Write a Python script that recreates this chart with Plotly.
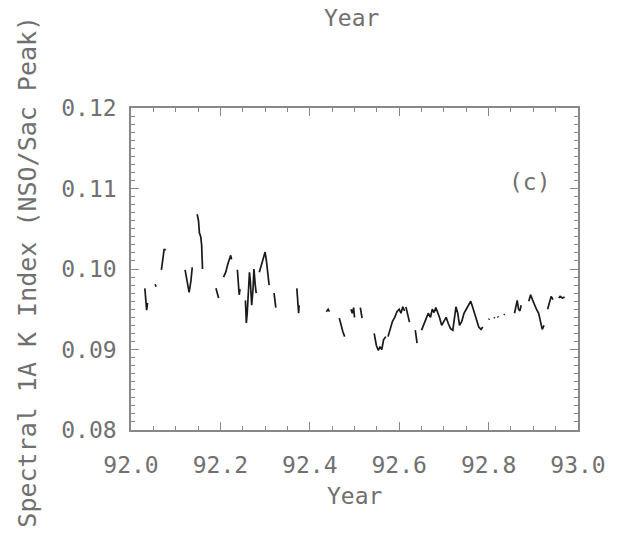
import plotly.graph_objects as go

# Data segments (year, Spectral 1A K index); gaps separate observing runs
segments_year = [
    [92.031, 92.033, 92.035, 92.037],
    [92.054, 92.056],
    [92.068, 92.071, 92.074, 92.078],
    [92.121, 92.126, 92.130, 92.134, 92.137],
    [92.148, 92.151, 92.153, 92.156, 92.158, 92.160],
    [92.190, 92.193, 92.196],
    [92.207, 92.212, 92.216, 92.220, 92.223, 92.225],
    [92.238, 92.240, 92.242, 92.244],
    [92.256, 92.258, 92.260, 92.263, 92.265, 92.267, 92.270, 92.273, 92.275, 92.278, 92.280],
    [92.287, 92.291, 92.295, 92.300, 92.303, 92.306, 92.309],
    [92.320, 92.322, 92.324],
    [92.371, 92.373, 92.375, 92.376],
    [92.437, 92.441, 92.444],
    [92.466, 92.470, 92.474, 92.478],
    [92.492, 92.495, 92.498, 92.500],
    [92.513, 92.515, 92.517],
    [92.544, 92.549, 92.553, 92.557, 92.561, 92.565, 92.570],
    [92.575, 92.580, 92.585, 92.590, 92.595, 92.600, 92.604, 92.608, 92.612],
    [92.615, 92.619, 92.623],
    [92.636, 92.638, 92.640],
    [92.650, 92.655, 92.660, 92.665, 92.670, 92.674, 92.678, 92.682, 92.686, 92.690,
     92.695, 92.700, 92.705, 92.710, 92.715, 92.720, 92.724, 92.727, 92.731, 92.735,
     92.740, 92.745, 92.750, 92.755, 92.760, 92.764, 92.768, 92.773, 92.778, 92.783, 92.787],
    [92.800, 92.802], [92.812, 92.814], [92.820, 92.822], [92.834, 92.836],
    [92.858, 92.861, 92.864, 92.867, 92.870, 92.873],
    [92.890, 92.894, 92.898, 92.903, 92.907, 92.912, 92.916, 92.920, 92.924],
    [92.932, 92.936, 92.940, 92.944],
    [92.957, 92.960, 92.965, 92.970],
]
segments_index = [
    [0.0976, 0.0965, 0.0949, 0.0958],
    [0.0981, 0.0978],
    [0.0999, 0.1012, 0.1024, 0.1024],
    [0.0999, 0.0980, 0.0971, 0.0985, 0.1002],
    [0.1068, 0.1060, 0.1045, 0.1040, 0.1030, 0.1000],
    [0.0976, 0.0968, 0.0964],
    [0.0990, 0.0996, 0.1005, 0.1013, 0.1017, 0.1012],
    [0.0999, 0.0985, 0.0968, 0.0975],
    [0.0961, 0.0933, 0.0945, 0.0975, 0.0996, 0.0985, 0.0955, 0.0975, 0.1000, 0.0980, 0.0970],
    [0.0996, 0.1003, 0.1012, 0.1021, 0.1010, 0.0995, 0.0980],
    [0.0970, 0.0960, 0.0952],
    [0.0976, 0.0960, 0.0945, 0.0955],
    [0.0947, 0.0950, 0.0947],
    [0.0939, 0.0930, 0.0922, 0.0916],
    [0.0950, 0.0945, 0.0952, 0.0940],
    [0.0952, 0.0945, 0.0939],
    [0.0920, 0.0905, 0.0899, 0.0903, 0.0900, 0.0912, 0.0916],
    [0.0916, 0.0925, 0.0935, 0.0940, 0.0947, 0.0950, 0.0945, 0.0953, 0.0948],
    [0.0953, 0.0945, 0.0934],
    [0.0924, 0.0915, 0.0908],
    [0.0924, 0.0930, 0.0938, 0.0945, 0.0940, 0.0950, 0.0946, 0.0952, 0.0947, 0.0940,
     0.0930, 0.0935, 0.0940, 0.0932, 0.0926, 0.0924, 0.0940, 0.0953, 0.0945, 0.0930,
     0.0935, 0.0945, 0.0950, 0.0955, 0.0960, 0.0953, 0.0945, 0.0935, 0.0928, 0.0925, 0.0928],
    [0.0937, 0.0938], [0.0940, 0.0939], [0.0941, 0.0940], [0.0943, 0.0944],
    [0.0945, 0.0955, 0.0961, 0.0950, 0.0948, 0.0955],
    [0.0960, 0.0968, 0.0962, 0.0955, 0.0950, 0.0945, 0.0935, 0.0925, 0.0930],
    [0.0950, 0.0958, 0.0966, 0.0962],
    [0.0964, 0.0966, 0.0964, 0.0965],
]
x_ticks = [92.0, 92.2, 92.4, 92.6, 92.8, 93.0]
x_ticklabels = ["92.0", "92.2", "92.4", "92.6", "92.8", "93.0"]
y_ticks = [0.08, 0.09, 0.10, 0.11, 0.12]
y_ticklabels = ["0.08", "0.09", "0.10", "0.11", "0.12"]

xs, ys = [], []
for sx, sy in zip(segments_year, segments_index):
    xs += sx + [None]
    ys += sy + [None]

FONT = "DejaVu Sans Mono"
GRAY = "#707070"

fig = go.Figure()
fig.add_trace(go.Scatter(x=xs, y=ys, mode="lines", connectgaps=False,
                         line=dict(color="#1a1a1a", width=1.7), showlegend=False,
                         hoverinfo="skip"))

axis_common = dict(showgrid=False, zeroline=False, showline=True, linecolor="#888888",
                   linewidth=1.5, mirror="allticks", ticks="inside", tickcolor="#888888",
                   tickwidth=1, tickfont=dict(family=FONT, size=23, color=GRAY))

fig.update_xaxes(range=[92.0, 93.0], tickvals=x_ticks, ticktext=x_ticklabels, ticklen=8,
                 ticklabelstandoff=14,
                 minor=dict(dtick=0.05, tick0=92.0, ticks="inside", ticklen=4,
                            tickcolor="#888888"),
                 **axis_common)
fig.update_yaxes(range=[0.08, 0.12], tickvals=y_ticks, ticktext=y_ticklabels, ticklen=8,
                 ticklabelstandoff=8,
                 minor=dict(dtick=0.001, tick0=0.08, ticks="inside", ticklen=4,
                            tickcolor="#888888"),
                 **axis_common)

annotations = [
    dict(text="Year", x=0.5, y=(430 - 496) / 322, xref="paper", yref="paper",
         xanchor="center", yanchor="middle",
         showarrow=False, font=dict(family=FONT, size=23, color=GRAY)),
    dict(text="Year", x=(355 - 131) / 454, y=(430 - 18) / 322, xref="paper", yref="paper",
         xanchor="center", yanchor="middle",
         showarrow=False, font=dict(family=FONT, size=23, color=GRAY)),
    dict(text="Spectral 1A K Index (NSO/Sac Peak)", x=(25 - 131) / 454, y=(430 - 272) / 322,
         xref="paper", yref="paper", textangle=-90, showarrow=False,
         xanchor="center", yanchor="middle",
         font=dict(family=FONT, size=25, color=GRAY)),
    dict(text="(c)", x=(536 - 131) / 454, y=(430 - 182) / 322, xref="paper", yref="paper",
         xanchor="center", yanchor="middle",
         showarrow=False, font=dict(family=FONT, size=23, color=GRAY)),
]

fig.update_layout(width=618, height=534, margin=dict(l=131, r=33, t=108, b=104),
                  paper_bgcolor="white", plot_bgcolor="white", annotations=annotations)

fig.write_html("out.html")
